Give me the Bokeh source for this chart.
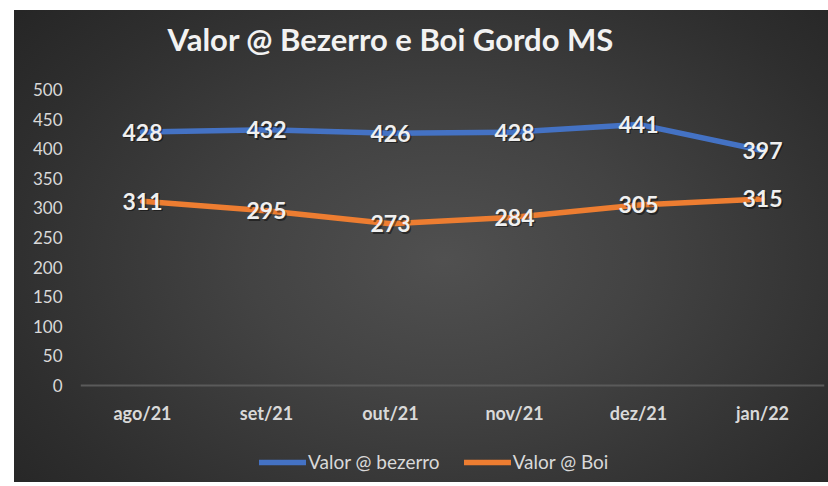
from bokeh.plotting import figure
from bokeh.models import (FactorRange, Range1d, FixedTicker, Legend, LegendItem,
                          ColumnDataSource, Title)
from bokeh.core.properties import value
from bokeh.embed import file_html
from bokeh.resources import INLINE

months = ["ago/21", "set/21", "out/21", "nov/21", "dez/21", "jan/22"]
bezerro = [428, 432, 426, 428, 441, 397]
boi = [311, 295, 273, 284, 305, 315]
y_ticks = [0, 50, 100, 150, 200, 250, 300, 350, 400, 450, 500]
series_names = ["Valor @ bezerro", "Valor @ Boi"]
title_text = "Valor @ Bezerro e Boi Gordo MS"

BLUE = "#4472C4"
ORANGE = "#ED7D31"
TXT = "#d9d9d9"

src = ColumnDataSource(dict(
    x=months, bez=bezerro, boi=boi,
    bez_t=[str(v) for v in bezerro], boi_t=[str(v) for v in boi],
))

# frame extends below the value axis so the legend can sit inside it
p = figure(x_range=FactorRange(*months), y_range=Range1d(-164, 500),
           frame_width=744, frame_height=393,
           output_backend="svg", toolbar_location=None,
           min_border_left=66, min_border_right=4, min_border_top=79,
           min_border_bottom=0)
p.margin = (10, 0, 0, 14)
p.styles = {"background": "radial-gradient(ellipse 560px 380px at 430px 250px, "
                          "#505050 0%, #434343 35%, #2e2e2e 80%, #262626 100%)"}
p.border_fill_color = None
p.background_fill_color = None
p.outline_line_color = None
p.xgrid.grid_line_color = None
p.ygrid.grid_line_color = None

# titles: spacer first (nearest the frame), then the main title above it
p.add_layout(Title(text=" ", text_font_size="10px", standoff=14), "above")
p.add_layout(Title(text=title_text, text_font="Lato", text_font_style="bold",
                   text_font_size="31px", text_color="#f2f2f2", align="left",
                   offset=87, standoff=10), "above")

# axes
p.yaxis.ticker = FixedTicker(ticks=y_ticks)
p.yaxis.axis_line_color = None
p.yaxis.major_tick_line_color = None
p.yaxis.minor_tick_line_color = None
p.yaxis.major_tick_out = 0
p.yaxis.major_label_standoff = 18
p.yaxis.major_label_text_color = TXT
p.yaxis.major_label_text_font = "Lato"
p.yaxis.major_label_text_font_size = "17px"

p.xaxis.fixed_location = 0
p.xaxis.axis_line_color = "#5a5a5a"
p.xaxis.axis_line_width = 2
p.xaxis.major_tick_line_color = None
p.xaxis.minor_tick_line_color = None
p.xaxis.major_tick_out = 0
p.xaxis.major_label_standoff = 17
p.xaxis.major_label_text_color = TXT
p.xaxis.major_label_text_font = "Lato"
p.xaxis.major_label_text_font_style = "bold"
p.xaxis.major_label_text_font_size = "18px"

r1 = p.line("x", "bez", source=src, line_color=BLUE, line_width=5.5,
            line_join="round", line_cap="round")
r2 = p.line("x", "boi", source=src, line_color=ORANGE, line_width=5.5,
            line_join="round", line_cap="round")

for col, ycol in (("bez_t", "bez"), ("boi_t", "boi")):
    p.text("x", ycol, text=col, source=src, text_align="center",
           text_baseline="middle", text_font=value("Lato"),
           text_font_style="bold", text_font_size="23px",
           text_color="black", text_alpha=0.45, x_offset=1.5, y_offset=1.5)
    p.text("x", ycol, text=col, source=src, text_align="center",
           text_baseline="middle", text_font=value("Lato"),
           text_font_style="bold", text_font_size="23px",
           text_color="#f0f0f0")

legend = Legend(items=[LegendItem(label=series_names[0], renderers=[r1]),
                       LegendItem(label=series_names[1], renderers=[r2])],
                location=(179, 9), orientation="horizontal",
                background_fill_alpha=0, border_line_alpha=0,
                label_text_color=TXT, label_text_font="Lato",
                label_text_font_size="19px", glyph_width=47, glyph_height=20,
                label_standoff=2, spacing=24, padding=0, margin=0)
p.add_layout(legend, "center")

open("out.html", "w").write(file_html(p, INLINE))
